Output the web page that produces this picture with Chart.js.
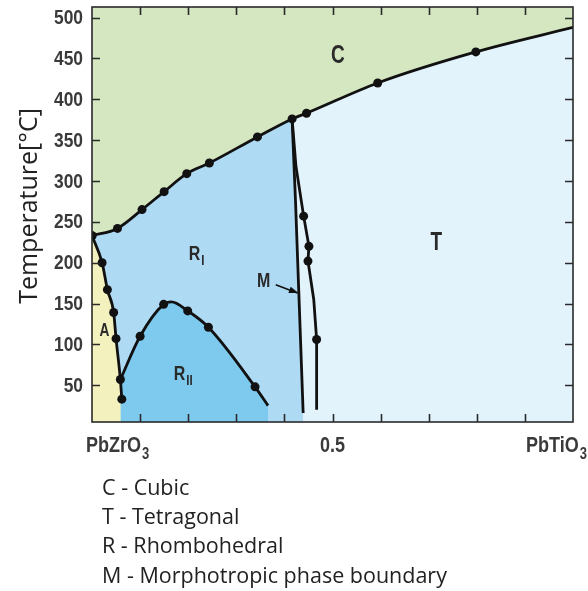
<!DOCTYPE html>
<html>
<head>
<meta charset="utf-8">
<script src="https://cdn.jsdelivr.net/npm/chart.js@4.4.1/dist/chart.umd.min.js"></script>
<style>
  html, body { margin: 0; padding: 0; background: #fff; }
  #wrap { position: relative; width: 588px; height: 591px; }
</style>
</head>
<body>
<div id="wrap"><canvas id="phaseChart"></canvas></div>
<script>
// PbZrO3 - PbTiO3 phase diagram: x = PbTiO3 fraction, y = temperature (°C)

const tempMin = 5;
const tempMax = 513;
const tempTicks = [50, 100, 150, 200, 250, 300, 350, 400, 450, 500];
const fracTicks = [0, 0.1, 0.2, 0.3, 0.4, 0.5, 0.6, 0.7, 0.8, 0.9, 1];

// Curie line (cubic above it)
const curieX = [0, 0.053, 0.104, 0.150, 0.197, 0.244, 0.344, 0.416, 0.446, 0.594, 0.798, 1.0];
const curieT = [233, 242, 265, 287, 309, 322, 354, 376, 383, 420, 458, 488];
const curieDots = [1, 1, 1, 1, 1, 1, 1, 1, 1, 1, 1, 0];

// antiferroelectric boundary (A)
const afeX = [0, 0.021, 0.032, 0.045, 0.050, 0.059, 0.062];
const afeT = [233, 200, 167, 139, 107, 57, 33];
const afeDots = [1, 1, 1, 1, 1, 1, 1];

// R_I / R_II dome
const domeX = [0.059, 0.100, 0.149, 0.165, 0.199, 0.242, 0.339, 0.366];
const domeT = [57, 110, 149, 152, 141, 121, 48, 25];
const domeDots = [0, 1, 1, 0, 1, 1, 1, 0];

// morphotropic boundary, rhombohedral side
const mpbRX = [0.416, 0.423, 0.430, 0.439];
const mpbRT = [376, 277, 163, 16];

// morphotropic boundary, tetragonal side
const mpbTX = [0.416, 0.424, 0.440, 0.451, 0.449, 0.461, 0.467, 0.467];
const mpbTT = [376, 318, 257, 220, 202, 155, 106, 20];
const mpbTDots = [0, 0, 1, 1, 1, 0, 1, 0];

// pointer from the "M" label to the boundary
const arrowX = [0.382, 0.427];
const arrowT = [173, 163];

// phase labels
const regionNames = ['C', 'T', 'R', 'R', 'A', 'M'];
const regionSubs = ['', '', 'I', 'II', '', ''];
const regionX = [0.511, 0.716, 0.213, 0.182, 0.026, 0.357];
const regionT = [453, 224, 210, 63, 116, 177];

const xLabels = ['PbZrO', '0.5', 'PbTiO'];
const xLabelSubs = ['3', '', '3'];
const xLabelAt = [0, 0.5, 1];

const legendLines = ['C - Cubic', 'T - Tetragonal', 'R - Rhombohedral', 'M - Morphotropic phase boundary'];

const colors = {
  cubic: '#d4e7c1',
  tetra: '#e3f3fc',
  rhombo1: '#afdaf3',
  rhombo2: '#7ecaee',
  afe: '#f3f2bf',
  line: '#111'
};

// no condensed face is installed, so the Helvetica-like face is squeezed horizontally
const sans = "'Liberation Sans', Arial, sans-serif";
const body = "'Open Sans', 'Noto Sans', sans-serif";

const pts = (xs, ys) => xs.map((x, i) => ({ x, y: ys[i] }));
const radii = dots => dots.map(d => d ? 4.5 : 0);

const boundary = (data, dots, extra) => Object.assign({
  data,
  borderColor: colors.line,
  borderWidth: 2.8,
  pointRadius: dots ? radii(dots) : 0,
  pointBackgroundColor: colors.line,
  pointBorderWidth: 0,
  fill: false,
  tension: 0
}, extra);

const datasets = [
  boundary(pts(domeX, domeT), domeDots, { cubicInterpolationMode: 'monotone', fill: 'start', backgroundColor: colors.rhombo2 }),
  boundary(pts(afeX, afeT), afeDots, { cubicInterpolationMode: 'monotone', fill: 'start', backgroundColor: colors.afe }),
  boundary(pts(mpbTX, mpbTT), mpbTDots),
  boundary(pts(mpbRX, mpbRT), null),
  boundary(pts(arrowX, arrowT), null, { borderWidth: 1.6 }),
  boundary(pts(curieX, curieT), curieDots, { cubicInterpolationMode: 'monotone', fill: 'end', backgroundColor: colors.cubic }),
  // R_I sits left of the rhombohedral-side boundary, the cubic fill covers its top
  {
    data: [{ x: 0, y: tempMax }, { x: mpbRX[0], y: tempMax }, ...pts(mpbRX, mpbRT)],
    borderWidth: 0, pointRadius: 0, tension: 0,
    fill: 'start', backgroundColor: colors.rhombo1
  },
  {
    data: pts(curieX, curieT),
    borderWidth: 0, pointRadius: 0, cubicInterpolationMode: 'monotone',
    fill: 'start', backgroundColor: colors.tetra
  }
];

// narrow text with an optional subscript; align is relative to the whole run
function drawSubText(ctx, text, sub, x, y, size, align, squeeze) {
  const subSize = size * 0.72;
  ctx.font = `bold ${size}px ${sans}`;
  const w = ctx.measureText(text).width * squeeze;
  ctx.font = `bold ${subSize}px ${sans}`;
  const ws = sub ? ctx.measureText(sub).width * squeeze + 1 : 0;
  let left = x;
  if (align === 'center') left = x - (w + ws) / 2;
  if (align === 'right') left = x - w - ws;
  ctx.save();
  ctx.textAlign = 'left';
  ctx.translate(left, y);
  ctx.scale(squeeze, 1);
  ctx.font = `bold ${size}px ${sans}`;
  ctx.fillText(text, 0, 0);
  if (sub) {
    ctx.font = `bold ${subSize}px ${sans}`;
    ctx.fillText(sub, (w + 1) / squeeze, size * 0.3);
  }
  ctx.restore();
}

const decorations = {
  id: 'decorations',
  afterDatasetsDraw(chart) {
    const { ctx, chartArea: a, scales: { x, y } } = chart;
    ctx.save();

    // frame with inward ticks
    ctx.strokeStyle = '#2a2a2a';
    ctx.lineWidth = 1.6;
    ctx.strokeRect(a.left, a.top, a.right - a.left, a.bottom - a.top);
    ctx.beginPath();
    fracTicks.slice(1, -1).forEach(v => {
      const px = Math.round(x.getPixelForValue(v)) + 0.5;
      ctx.moveTo(px, a.bottom); ctx.lineTo(px, a.bottom - 8);
      ctx.moveTo(px, a.top); ctx.lineTo(px, a.top + 8);
    });
    tempTicks.forEach(v => {
      const py = Math.round(y.getPixelForValue(v)) + 0.5;
      ctx.moveTo(a.left, py); ctx.lineTo(a.left + 8, py);
      ctx.moveTo(a.right, py); ctx.lineTo(a.right - 8, py);
    });
    ctx.stroke();

    // temperature tick labels
    ctx.fillStyle = '#3a3a3a';
    ctx.textBaseline = 'middle';
    tempTicks.forEach(v => {
      drawSubText(ctx, String(v), '', a.left - 9, y.getPixelForValue(v) + 1, 20, 'right', 0.87);
    });

    // arrowhead of the M pointer
    const x0 = x.getPixelForValue(arrowX[0]), y0 = y.getPixelForValue(arrowT[0]);
    const x1 = x.getPixelForValue(arrowX[1]), y1 = y.getPixelForValue(arrowT[1]);
    const ang = Math.atan2(y1 - y0, x1 - x0);
    ctx.fillStyle = colors.line;
    ctx.beginPath();
    ctx.moveTo(x1 + 1, y1);
    ctx.lineTo(x1 - 9 * Math.cos(ang - 0.38), y1 - 9 * Math.sin(ang - 0.38));
    ctx.lineTo(x1 - 9 * Math.cos(ang + 0.38), y1 - 9 * Math.sin(ang + 0.38));
    ctx.closePath();
    ctx.fill();

    // phase labels
    ctx.fillStyle = '#2a2a2a';
    ctx.textBaseline = 'middle';
    const sizes = [25, 25, 21, 21, 18, 21];
    regionNames.forEach((name, i) => {
      const px = x.getPixelForValue(regionX[i]);
      const py = y.getPixelForValue(regionT[i]);
      ctx.font = `bold ${sizes[i]}px ${sans}`;
      const w = ctx.measureText(name).width * 0.76;
      drawSubText(ctx, name, regionSubs[i], px - w / 2, py, sizes[i], 'left', 0.76);
    });

    // composition labels under the axis
    ctx.textBaseline = 'alphabetic';
    ctx.fillStyle = '#3a3a3a';
    const aligns = ['left', 'center', 'right'];
    const shifts = [-6, 0, 14];
    xLabels.forEach((t, i) => {
      drawSubText(ctx, t, xLabelSubs[i], x.getPixelForValue(xLabelAt[i]) + shifts[i], 452, 22, aligns[i], 0.82);
    });

    // y axis title
    ctx.save();
    ctx.translate(30, 206);
    ctx.rotate(-Math.PI / 2);
    ctx.textAlign = 'center';
    ctx.textBaseline = 'middle';
    ctx.font = `25px ${body}`;
    ctx.fillStyle = '#222';
    ctx.fillText('Temperature[°C]', 0, 0);
    ctx.restore();

    // key to the phase letters
    ctx.textAlign = 'left';
    ctx.font = `21.5px ${body}`;
    ctx.fillStyle = '#222';
    legendLines.forEach((t, i) => ctx.fillText(t, 102, 495 + i * 29.2));

    ctx.restore();
  }
};

new Chart(document.getElementById('phaseChart'), {
  type: 'line',
  data: { datasets },
  options: {
    responsive: true,
    maintainAspectRatio: false,
    animation: false,
    events: [],
    layout: { padding: { left: 0, top: 7, right: 15, bottom: 169 } },
    plugins: {
      legend: { display: false },
      tooltip: { enabled: false },
      filler: { drawTime: 'beforeDatasetsDraw' }
    },
    scales: {
      x: {
        type: 'linear',
        min: 0,
        max: 1,
        grid: { display: false },
        border: { display: false },
        ticks: { display: false },
        afterFit: s => { s.height = 0; }
      },
      y: {
        min: tempMin,
        max: tempMax,
        grid: { display: false },
        border: { display: false },
        afterBuildTicks: s => { s.ticks = tempTicks.map(v => ({ value: v })); },
        afterFit: s => { s.width = 92; },
        ticks: { display: false }
      }
    }
  },
  plugins: [decorations]
});
</script>
</body>
</html>
